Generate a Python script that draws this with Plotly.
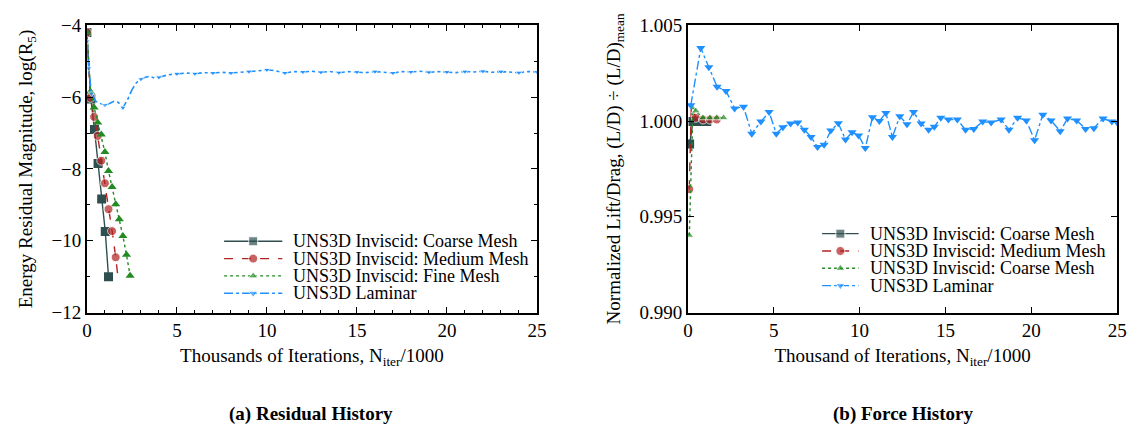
import plotly.graph_objects as go

# ---------------- Data: (a) Residual history ----------------
res_coarse_x = [0, 0.22, 0.42, 0.62, 0.82, 1.02, 1.2]
res_coarse_y = [-4.2, -6.05, -6.9, -7.85, -8.84, -9.74, -11.0]

res_medium_x = [0, 0.2, 0.4, 0.6, 0.8, 1.0, 1.2, 1.4, 1.6, 1.7]
res_medium_y = [-4.2, -6.02, -6.55, -7.08, -7.77, -8.40, -9.12, -9.73, -10.46, -10.9]

res_fine_x = [0, 0.2, 0.4, 0.6, 0.8, 1.0, 1.2, 1.4, 1.6, 1.8, 2.0, 2.2, 2.4]
res_fine_y = [-4.2, -5.85, -6.29, -6.71, -7.04, -7.53, -8.06, -8.50, -8.98, -9.40, -9.87, -10.39, -10.97]

res_lam_x = [0, 0.1, 0.25, 0.5, 0.75, 1.0, 1.25, 1.5, 1.75, 2.0, 2.25, 2.5, 2.75, 3.0,
             3.25, 3.5, 3.75, 4.0, 4.5, 5.0, 5.5, 6.0, 6.5, 7.0, 7.5, 8.0, 8.5, 9.0,
             9.5, 10.0, 10.5, 11.0, 11.5, 12.0, 12.5, 13.0, 13.5, 14.0, 14.5, 15.0,
             15.5, 16.0, 16.5, 17.0, 17.5, 18.0, 18.5, 19.0, 19.5, 20.0, 20.5, 21.0,
             21.5, 22.0, 22.5, 23.0, 23.5, 24.0, 24.5, 25.0]
res_lam_y = [-4.45, -5.2, -5.9, -6.12, -6.18, -6.22, -6.18, -6.12, -6.15, -6.3, -6.08,
             -5.8, -5.6, -5.5, -5.45, -5.42, -5.47, -5.45, -5.38, -5.35, -5.33, -5.35,
             -5.32, -5.33, -5.31, -5.33, -5.30, -5.29, -5.27, -5.24, -5.27, -5.33, -5.29,
             -5.30, -5.28, -5.31, -5.29, -5.32, -5.29, -5.30, -5.32, -5.29, -5.30, -5.33,
             -5.29, -5.30, -5.28, -5.31, -5.29, -5.30, -5.32, -5.29, -5.30, -5.28, -5.31,
             -5.29, -5.30, -5.32, -5.29, -5.30]

# ---------------- Data: (b) Force history ----------------
f_coarse_x = [0.1, 0.3, 0.5, 0.7, 0.9, 1.1]
f_coarse_y = [0.9988, 0.99998, 1.0, 0.99998, 0.99997, 0.99997]

f_medium_x = [0.08, 0.2, 0.46, 0.88, 1.28, 1.68]
f_medium_y = [0.99644, 1.0008, 1.00017, 1.00008, 1.00008, 1.00008]

f_fine_x = [0.08, 0.3, 0.46, 0.88, 1.28, 1.68, 2.08]
f_fine_y = [0.99404, 1.0008, 1.00053, 1.00017, 1.00017, 1.00017, 1.00017]

f_lam_x = [0.17, 0.75, 1.22, 1.7, 2.22, 2.72, 3.24, 3.72, 4.25, 4.73, 5.15, 5.53, 5.98,
           6.4, 6.78, 7.17, 7.55, 7.93, 8.32, 8.76, 9.18, 9.56, 9.94, 10.33, 10.75,
           11.15, 11.53, 11.91, 12.34, 12.76, 13.14, 13.58, 14.02, 14.35, 14.73, 15.17,
           15.69, 16.17, 16.65, 17.17, 17.66, 18.24, 18.7, 19.2, 19.71, 20.19, 20.67,
           21.15, 21.68, 22.11, 22.64, 23.16, 23.64, 24.18, 24.69, 25.0]
f_lam_y = [1.00083, 1.00381, 1.00281, 1.00179, 1.00157, 1.00066, 1.00074, 0.99934,
           0.99997, 1.00047, 0.99934, 0.99967, 0.99987, 0.99992, 0.99954, 0.99917,
           0.99864, 0.99876, 0.9995, 0.99988, 0.99904, 0.99942, 0.99925, 0.99859,
           1.0002, 1.0, 1.00042, 0.99917, 1.00025, 0.99983, 1.00047, 0.99987, 0.99954,
           0.9997, 1.00017, 1.00008, 1.00008, 0.99954, 0.99959, 0.99997, 0.99992,
           1.00008, 0.99954, 1.00017, 1.00003, 0.999, 1.00033, 1.00003, 0.99947,
           1.00013, 1.00003, 0.99959, 0.99963, 1.00013, 0.99997, 0.99992]

labels_a = ["UNS3D Inviscid: Coarse Mesh", "UNS3D Inviscid: Medium Mesh",
            "UNS3D Inviscid: Fine Mesh", "UNS3D Laminar"]
labels_b = ["UNS3D Inviscid: Coarse Mesh", "UNS3D Inviscid: Medium Mesh",
            "UNS3D Inviscid: Coarse Mesh", "UNS3D Laminar"]

C_COARSE = "#2F4F4F"
C_MED = "#B22222"
C_FINE = "#228B22"
C_LAM = "#1E90FF"
FONT = "Liberation Serif"
W, H = 1140, 435

styles = [  # color, dash, symbol, marker size
    (C_COARSE, "solid", "square", 9),
    (C_MED, "dash", "circle", 9),
    (C_FINE, "dot", "triangle-up", 8),
    (C_LAM, "dashdot", "triangle-down", 8),
]

fig = go.Figure()


def add(x, y, style, xa, ya, sizes=None, width=1.4, name=None):
    color, dash, symbol, msize = style
    fig.add_trace(go.Scatter(
        x=x, y=y, name=name, mode="lines+markers", showlegend=False,
        line=dict(color=color, dash=dash, width=width),
        marker=dict(symbol=symbol, size=sizes if sizes is not None else msize, color=color),
        xaxis=xa, yaxis=ya, hoverinfo="skip" if name is None else None))


# (a)
add(res_coarse_x, res_coarse_y, styles[0], "x", "y", name=labels_a[0])
add(res_medium_x, res_medium_y, styles[1], "x", "y",
    sizes=[9] * (len(res_medium_x) - 1) + [0], name=labels_a[1])
add(res_fine_x, res_fine_y, styles[2], "x", "y", name=labels_a[2])
add(res_lam_x, res_lam_y, styles[3], "x", "y",
    sizes=[6 if (abs(v - round(v)) < 1e-9 or v < 0.3) else 0 for v in res_lam_x],
    name=labels_a[3], width=1.6)

# (b)
add(f_coarse_x, f_coarse_y, styles[0], "x2", "y2", name=labels_b[0])
add(f_medium_x, f_medium_y, styles[1], "x2", "y2", sizes=[9, 0, 9, 9, 9, 9], name=labels_b[1])
add(f_fine_x, f_fine_y, styles[2], "x2", "y2", sizes=[8, 0, 8, 8, 8, 8, 8], name=labels_b[2])
add(f_lam_x, f_lam_y, styles[3], "x2", "y2", name=labels_b[3])

# ---------------- Hand-made legends (pixel overlay axes) ----------------
annotations = []
legend_specs = [
    # (line x0, line x1, text x, first row y, row step, labels)
    (222, 281, 290, 243, 18.2, labels_a),
    (828, 865, 875, 235, 18.2, labels_b),
]
for lx0, lx1, tx, ry0, step, labs in legend_specs:
    for i, (lab, st) in enumerate(zip(labs, styles)):
        ry = ry0 + i * step
        add([lx0, (lx0 + lx1) / 2, lx1], [ry, ry, ry], st, "x3", "y3",
            sizes=[0, st[3], 0])
        annotations.append(dict(text=lab, x=tx, y=ry, xref="x3", yref="y3",
                                xanchor="left", yanchor="middle", showarrow=False,
                                font=dict(family=FONT, size=18, color="black")))

annotations += [
    dict(text="<b>(a) Residual History</b>", x=310 / W, y=1 - 424 / H, xref="paper",
         yref="paper", xanchor="center", yanchor="middle", showarrow=False,
         font=dict(family=FONT, size=19)),
    dict(text="<b>(b) Force History</b>", x=910 / W, y=1 - 424 / H, xref="paper",
         yref="paper", xanchor="center", yanchor="middle", showarrow=False,
         font=dict(family=FONT, size=19)),
]

ytop, ybot = 1 - 16 / H, 1 - 318 / H

axis_common = dict(showline=True, linecolor="black", linewidth=1.6, mirror="allticks",
                   ticks="inside", ticklen=6, tickwidth=1, tickcolor="black",
                   showgrid=False, zeroline=False,
                   tickfont=dict(family=FONT, size=19, color="black"))
title_font = dict(family=FONT, size=19, color="black")

fig.update_layout(
    width=W, height=H, margin=dict(l=0, r=0, t=0, b=0),
    paper_bgcolor="white", plot_bgcolor="rgba(0,0,0,0)",
    font=dict(family=FONT, size=19, color="black"),
    xaxis=dict(domain=[83 / W, 539 / W], range=[0, 25], tickvals=[0, 5, 10, 15, 20, 25],
               minor=dict(ticks="inside", ticklen=3, dtick=1, tickcolor="black"),
               title=dict(text="Thousands of Iterations, N<sub>iter</sub>/1000",
                          font=title_font, standoff=8),
               anchor="y", **axis_common),
    yaxis=dict(domain=[ybot, ytop], range=[-12, -4], tickvals=[-12, -10, -8, -6, -4],
               minor=dict(ticks="inside", ticklen=3, dtick=1, tickcolor="black"),
               title=dict(text="Energy Residual Magnitude, log(R<sub>5</sub>)",
                          font=title_font, standoff=14),
               anchor="x", **axis_common),
    xaxis2=dict(domain=[692 / W, 1127 / W], range=[0, 25], tickvals=[0, 5, 10, 15, 20, 25],
                title=dict(text="Thousand of Iterations, N<sub>iter</sub>/1000",
                           font=title_font, standoff=8),
                anchor="y2", **axis_common),
    yaxis2=dict(domain=[ybot, ytop], range=[0.990, 1.005],
                tickvals=[0.990, 0.995, 1.000, 1.005], tickformat=".3f",
                title=dict(text="Normalized Lift/Drag, (L/D) ÷ (L/D)<sub>mean</sub>",
                           font=title_font, standoff=14),
                anchor="x2", **axis_common),
    xaxis3=dict(domain=[0, 1], range=[0, W], visible=False, anchor="y3", fixedrange=True),
    yaxis3=dict(domain=[0, 1], range=[H, 0], visible=False, anchor="x3", fixedrange=True),
    annotations=annotations,
    showlegend=False,
)

fig.write_html("out.html")
